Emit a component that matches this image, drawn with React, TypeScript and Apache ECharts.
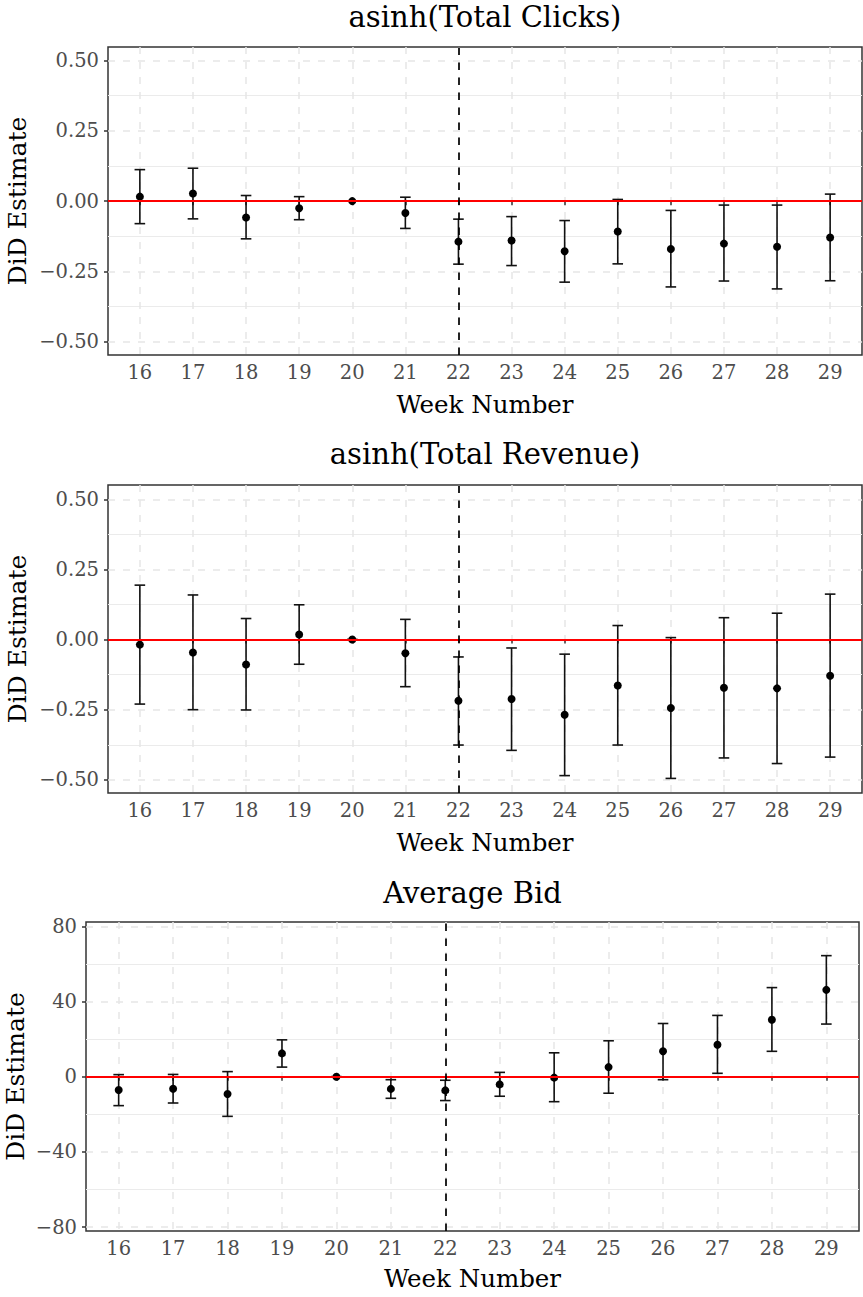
import React, { useEffect, useRef } from "react";
import * as echarts from "echarts";

const weeks = [16, 17, 18, 19, 20, 21, 22, 23, 24, 25, 26, 27, 28, 29];
const treatmentWeek = 22;

const clicksEst = [0.016, 0.027, -0.058, -0.025, 0, -0.042, -0.144, -0.14, -0.178, -0.108, -0.17, -0.151, -0.162, -0.129];
const clicksLo = [-0.08, -0.063, -0.134, -0.066, 0, -0.097, -0.224, -0.229, -0.288, -0.223, -0.305, -0.284, -0.312, -0.283];
const clicksHi = [0.112, 0.117, 0.02, 0.016, 0, 0.014, -0.064, -0.055, -0.069, 0.006, -0.033, -0.014, -0.014, 0.025];

const revenueEst = [-0.018, -0.046, -0.089, 0.018, 0, -0.049, -0.218, -0.212, -0.268, -0.164, -0.244, -0.172, -0.174, -0.129];
const revenueLo = [-0.23, -0.25, -0.251, -0.088, 0, -0.168, -0.376, -0.395, -0.485, -0.376, -0.495, -0.422, -0.442, -0.419];
const revenueHi = [0.194, 0.159, 0.075, 0.124, 0, 0.072, -0.062, -0.03, -0.052, 0.05, 0.007, 0.078, 0.094, 0.162];

const bidEst = [-7.1, -6.4, -9.2, 12.4, 0, -6.5, -7.3, -4.1, -0.5, 5.1, 13.5, 17.0, 30.3, 46.2];
const bidLo = [-15.4, -14.0, -21.1, 5.1, 0, -11.5, -12.7, -10.4, -13.3, -8.8, -1.6, 1.8, 13.5, 28.0];
const bidHi = [1.1, 1.2, 2.7, 19.6, 0, -1.6, -1.9, 2.3, 12.7, 19.1, 28.3, 32.6, 47.4, 64.4];

const asinhTicks = [-0.5, -0.25, 0, 0.25, 0.5];
const asinhMinor = [-0.375, -0.125, 0.125, 0.375];
const bidTicks = [-80, -40, 0, 40, 80];
const bidMinor = [-60, -20, 20, 60];

const titles = ["asinh(Total Clicks)", "asinh(Total Revenue)", "Average Bid"];
const xTitle = "Week Number";
const yTitle = "DiD Estimate";

const FONT = "DejaVu Serif";

const fmtMinus = (digits: number) => (v: number) =>
  (v < 0 ? "\u2212" : "") + Math.abs(v).toFixed(digits);

export default function App() {
  const ref = useRef<HTMLDivElement>(null);

  useEffect(() => {
    document.body.style.margin = "0";
    if (!ref.current) return;
    const chart = echarts.init(ref.current, undefined, { renderer: "svg" });

    const panels = [
      { est: clicksEst, lo: clicksLo, hi: clicksHi, yMin: -0.547, yMax: 0.548, ticks: asinhTicks, minor: asinhMinor, digits: 2 },
      { est: revenueEst, lo: revenueLo, hi: revenueHi, yMin: -0.547, yMax: 0.551, ticks: asinhTicks, minor: asinhMinor, digits: 2 },
      { est: bidEst, lo: bidLo, hi: bidHi, yMin: -82.1, yMax: 82.3, ticks: bidTicks, minor: bidMinor, digits: 0 },
    ];
    const layout = [
      { left: 108, top: 47, width: 754, height: 308, titleY: 16.5, nameY: 404 },
      { left: 108, top: 485, width: 754, height: 308, titleY: 453.5, nameY: 842.5 },
      { left: 86, top: 922, width: 773, height: 309, titleY: 892.5, nameY: 1278 },
    ];

    const grid: any[] = [];
    const xAxis: any[] = [];
    const yAxis: any[] = [];
    const series: any[] = [];
    const graphic: any[] = [];

    panels.forEach((p, i) => {
      const L = layout[i];
      grid.push({
        left: L.left,
        top: L.top,
        width: L.width,
        height: L.height,
        show: true,
        borderColor: "#333333",
        borderWidth: 1.5,
        backgroundColor: "transparent",
        containLabel: false,
        outerBoundsMode: "none",
      });
      xAxis.push({
        gridIndex: i,
        type: "value",
        min: 15.4,
        max: 29.6,
        axisLine: { show: false },
        axisTick: { show: true, customValues: weeks, length: 4, lineStyle: { color: "#333333", width: 1.5 } },
        axisLabel: { customValues: weeks, margin: 7, color: "#4D4D4D", fontFamily: FONT, fontSize: 19.5 },
        splitLine: { show: true, lineStyle: { color: "#E6E6E6", width: 1.5, type: [7, 8] } },
      });
      yAxis.push({
        gridIndex: i,
        type: "value",
        position: "left",
        min: p.yMin,
        max: p.yMax,
        axisLine: { show: false },
        axisTick: { show: true, customValues: p.ticks, length: 4, lineStyle: { color: "#333333", width: 1.5 } },
        axisLabel: { customValues: p.ticks, margin: 9, color: "#4D4D4D", fontFamily: FONT, fontSize: 19.5, formatter: fmtMinus(p.digits) },
        splitLine: { show: true, lineStyle: { color: "#E6E6E6", width: 1.5, type: [7, 8] } },
      });
      yAxis.push({
        gridIndex: i,
        type: "value",
        position: "left",
        min: p.yMin,
        max: p.yMax,
        axisLine: { show: false },
        axisTick: { show: false, customValues: p.minor },
        axisLabel: { show: false, customValues: p.minor },
        splitLine: { show: true, lineStyle: { color: "#EBEBEB", width: 1, type: "solid" } },
      });

      // reference lines
      series.push({
        type: "scatter",
        xAxisIndex: i,
        yAxisIndex: 2 * i,
        data: [],
        z: 2,
        silent: true,
        markLine: {
          silent: true,
          symbol: ["none", "none"],
          label: { show: false },
          animation: false,
          data: [
            { yAxis: 0, lineStyle: { color: "#FF0000", width: 1.9, type: "solid" } },
            { xAxis: treatmentWeek, lineStyle: { color: "#000000", width: 1.7, type: [7.5, 7.5] } },
          ],
        },
      });

      // error bars
      series.push({
        type: "custom",
        xAxisIndex: i,
        yAxisIndex: 2 * i,
        z: 3,
        silent: true,
        encode: { x: 0, y: [1, 2] },
        data: weeks.map((w, j) => [w, p.lo[j], p.hi[j]]),
        renderItem: (params: any, api: any) => {
          const x = api.value(0);
          const pLo = api.coord([x, api.value(1)]);
          const pHi = api.coord([x, api.value(2)]);
          const hw = 5.3;
          const style = { stroke: "#111111", lineWidth: 1.6 };
          return {
            type: "group",
            children: [
              { type: "line", shape: { x1: pLo[0], y1: pLo[1], x2: pHi[0], y2: pHi[1] }, style },
              { type: "line", shape: { x1: pHi[0] - hw, y1: pHi[1], x2: pHi[0] + hw, y2: pHi[1] }, style },
              { type: "line", shape: { x1: pLo[0] - hw, y1: pLo[1], x2: pLo[0] + hw, y2: pLo[1] }, style },
            ],
          };
        },
      });

      // point estimates
      series.push({
        type: "scatter",
        xAxisIndex: i,
        yAxisIndex: 2 * i,
        z: 4,
        symbol: "circle",
        symbolSize: 8,
        itemStyle: { color: "#000000", opacity: 1 },
        data: weeks.map((w, j) => [w, p.est[j]]),
      });

      const cx = L.left + L.width / 2;
      const cy = L.top + L.height / 2;
      graphic.push({
        type: "text",
        x: cx,
        y: L.titleY,
        style: { text: titles[i], fontFamily: FONT, fontSize: 29, fill: "#000", align: "center", verticalAlign: "middle", textAlign: "center", textVerticalAlign: "middle" },
      });
      graphic.push({
        type: "text",
        x: cx,
        y: L.nameY,
        style: { text: xTitle, fontFamily: FONT, fontSize: 24.5, fill: "#000", align: "center", verticalAlign: "middle", textAlign: "center", textVerticalAlign: "middle" },
      });
      graphic.push({
        type: "text",
        x: i === 2 ? 15 : 17,
        y: cy,
        rotation: Math.PI / 2,
        style: { text: yTitle, fontFamily: FONT, fontSize: 25, fill: "#000", align: "center", verticalAlign: "middle", textAlign: "center", textVerticalAlign: "middle" },
      });
    });

    chart.setOption({
      animation: false,
      backgroundColor: "#FFFFFF",
      textStyle: { fontFamily: FONT },
      grid,
      xAxis,
      yAxis,
      series,
      graphic,
    });

    return () => chart.dispose();
  }, []);

  return <div ref={ref} style={{ width: 863, height: 1297 }} />;
}
